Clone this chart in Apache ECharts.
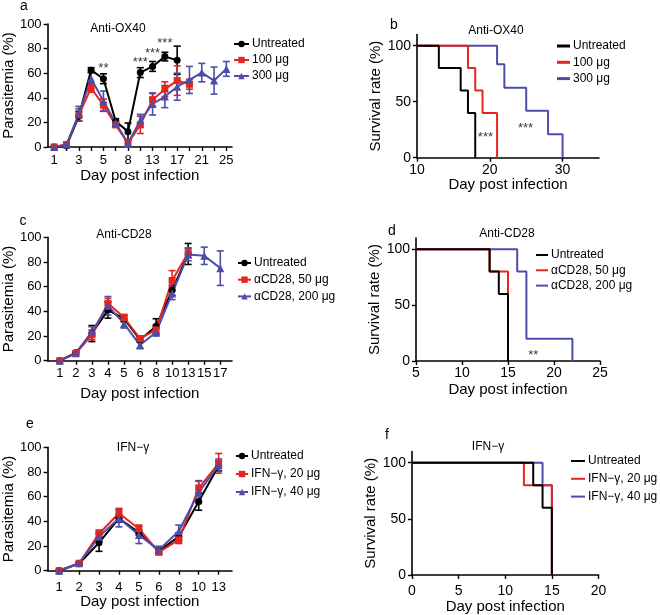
<!DOCTYPE html>
<html>
<head>
<meta charset="utf-8">
<script src="https://cdn.jsdelivr.net/npm/echarts@6/dist/echarts.min.js"></script>
<style>
html, body { margin: 0; padding: 0; background: #fff; }
#main { width: 660px; height: 615px; }
</style>
</head>
<body>
<div id="main"></div>
<script>
// ---- panel a : parasitemia, anti-OX40 ----
var daysA = ['1', '2', '3', '4', '5', '6', '8', '10', '13', '15', '17', '19', '21', '23', '25'];
var untreatedA = [0, 1, 25, 62.5, 55.5, 21, 12.5, 60.5, 65.5, 73.5, 70.5];
var untreatedAErr = [0.5, 1, 4, 2, 4, 2, 7, 4, 4, 3.5, 11.5];
var ox100 = [0, 2, 26, 48, 34, 18, 3, 18, 38.5, 47, 54, 51];
var ox100Err = [0.5, 1, 5, 3.5, 5, 2, 3, 7, 5, 6, 12, 4];
var ox300 = [0, 2, 27, 55.5, 37.5, 19.5, 3, 21.5, 35, 41, 49, 54.5, 60.5, 54, 63.5];
var ox300Err = [0.5, 1, 6, 5, 8, 2, 3, 5, 9, 9, 11, 11, 7.5, 11, 6];
var starsA = [[4, 64, '**'], [7, 68.5, '***'], [8, 76, '***'], [9, 84, '***']];

// ---- panel b : survival, anti-OX40 ----
var survBUntreated = [[10, 100], [13, 80], [16, 60], [17, 40], [18, 0]];
var survB100 = [[10, 100], [17, 80], [18, 60], [19, 40], [21, 0]];
var survB300 = [[10, 100], [21, 83.5], [22, 62.5], [25, 42], [28, 21], [30, 0]];
var starsB = [[19.4, 18, '***'], [24.9, 26.5, '***']];

// ---- panel c : parasitemia, anti-CD28 ----
var daysC = ['1', '2', '3', '4', '5', '6', '8', '10', '13', '15', '17'];
var untreatedC = [0, 6.5, 22, 41, 34, 17, 28, 57, 86.5];
var untreatedCErr = [0.5, 1, 6.5, 6.5, 2.5, 2, 6, 4, 8.5];
var cd50 = [0, 6, 21, 46.5, 35, 18, 25, 65, 87.5];
var cd50Err = [0.5, 1, 4, 4, 2.5, 2, 4, 8, 4];
var cd200 = [0, 6, 23.5, 44.5, 30, 12.7, 23, 54.5, 86, 85, 75];
var cd200Err = [0.5, 1, 4, 7.5, 3.5, 3, 3, 5, 5, 7, 14];

// ---- panel d : survival, anti-CD28 ----
var survDUntreated = [[5, 100], [13, 80], [14, 60], [15, 0]];
var survD50 = [[5, 100], [13, 80], [15, 0]];
var survD200 = [[5, 100], [16, 80], [17, 20], [22, 0]];
var starsD = [[17.75, 5, '**']];

// ---- panel e : parasitemia, IFN-gamma ----
var daysE = ['1', '2', '3', '4', '5', '6', '8', '10', '13'];
var untreatedE = [0, 5.7, 22.7, 42.4, 31, 16, 27.6, 56, 85];
var untreatedEErr = [0.5, 1, 7, 3, 2, 2, 3, 7, 4];
var ifn20 = [0, 6, 30, 46.5, 34, 15, 25, 67, 87];
var ifn20Err = [0.5, 1, 3, 4, 3, 2, 3, 6, 8];
var ifn40 = [0, 6, 27.5, 42.5, 29, 16.8, 32, 63.5, 85.5];
var ifn40Err = [0.5, 1, 4, 7, 7, 3, 5, 9, 5];

// ---- panel f : survival, IFN-gamma ----
var survFUntreated = [[0, 100], [13, 80], [14, 60], [15, 0]];
var survF20 = [[0, 100], [12, 80], [15, 0]];
var survF40 = [[0, 100], [14, 80], [15, 0]];

var BLACK = '#000000';
var RED = '#e4261d';
var BLUE = '#4c4dab';
var FONT = 'Liberation Sans, Arial, sans-serif';

/** helpers */
function toPoints(vals) {
	return vals.map(function(v, i) { return [i, v]; });
}
function toBars(vals, errs) {
	return vals.map(function(v, i) { return [i, Math.max(0, v - errs[i]), v + errs[i]]; });
}
function range(n, step) {
	var r = [];
	for (var i = 0; i < n; i += step) r.push(i);
	return r;
}

function lineSeries(name, idx, vals, color, symbol, size) {
	return {
		name : name,
		type : 'line',
		xAxisIndex : idx,
		yAxisIndex : idx,
		data : toPoints(vals),
		symbol : symbol,
		symbolSize : size,
		showAllSymbol : true,
		lineStyle : { color : color, width : 2 },
		itemStyle : { color : color },
		emphasis : { disabled : true },
		animation : false
	};
}

function errSeries(idx, vals, errs, color) {
	return {
		type : 'custom',
		xAxisIndex : idx,
		yAxisIndex : idx,
		data : toBars(vals, errs),
		encode : { x : 0, y : [1, 2] },
		silent : true,
		animation : false,
		renderItem : function(params, api) {
			var lo = api.coord([api.value(0), api.value(1)]);
			var hi = api.coord([api.value(0), api.value(2)]);
			var w = 3.5;
			var st = { stroke : color, lineWidth : 1.6 };
			return {
				type : 'group',
				children : [
					{ type : 'line', shape : { x1 : lo[0], y1 : lo[1], x2 : hi[0], y2 : hi[1] }, style : st },
					{ type : 'line', shape : { x1 : hi[0] - w, y1 : hi[1], x2 : hi[0] + w, y2 : hi[1] }, style : st },
					{ type : 'line', shape : { x1 : lo[0] - w, y1 : lo[1], x2 : lo[0] + w, y2 : lo[1] }, style : st }
				]
			};
		}
	};
}

function stepSeries(name, idx, data, color) {
	return {
		name : name,
		type : 'line',
		step : 'end',
		xAxisIndex : idx,
		yAxisIndex : idx,
		data : data,
		symbol : 'none',
		lineStyle : { color : color, width : 2 },
		itemStyle : { color : color },
		emphasis : { disabled : true },
		animation : false
	};
}

function starSeries(idx, data) {
	return {
		type : 'scatter',
		xAxisIndex : idx,
		yAxisIndex : idx,
		data : data,
		symbolSize : 0,
		silent : true,
		animation : false,
		label : {
			show : true,
			position : 'inside',
			formatter : function(p) { return p.value[2]; },
			color : '#000',
			fontSize : 13,
			fontFamily : FONT
		}
	};
}

var axisLine = { show : true, onZero : false, lineStyle : { color : '#000', width : 1.6 } };
var axisTick = { show : true, length : 4, lineStyle : { color : '#000', width : 1.4 } };

function dayAxis(idx, labels, min, max, labelStep, nameGap, margin) {
	return {
		gridIndex : idx,
		type : 'value',
		min : min,
		max : max,
		name : 'Day post infection',
		nameLocation : 'middle',
		nameGap : nameGap,
		nameTextStyle : { color : '#000', fontSize : 15, fontFamily : FONT },
		axisLine : axisLine,
		axisTick : Object.assign({ customValues : range(labels.length, 1) }, axisTick),
		splitLine : { show : false },
		axisLabel : {
			customValues : range(labels.length, labelStep),
			formatter : function(v) { return labels[Math.round(v)]; },
			color : '#000',
			fontSize : 13,
			fontFamily : FONT,
			margin : margin
		}
	};
}

function timeAxis(idx, min, max, ticks, nameGap, margin) {
	return {
		gridIndex : idx,
		type : 'value',
		min : min,
		max : max,
		name : 'Day post infection',
		nameLocation : 'middle',
		nameGap : nameGap,
		nameTextStyle : { color : '#000', fontSize : 15, fontFamily : FONT },
		axisLine : axisLine,
		axisTick : Object.assign({ customValues : ticks }, axisTick),
		splitLine : { show : false },
		axisLabel : { customValues : ticks, color : '#000', fontSize : 14, fontFamily : FONT, margin : margin }
	};
}

function pctAxis(idx, name, max, ticks, nameGap, fs) {
	return {
		gridIndex : idx,
		type : 'value',
		min : 0,
		max : max,
		name : name,
		nameLocation : 'middle',
		nameGap : nameGap,
		nameTextStyle : { color : '#000', fontSize : 15, fontFamily : FONT },
		axisLine : axisLine,
		axisTick : Object.assign({ customValues : ticks }, axisTick),
		splitLine : { show : false },
		axisLabel : { customValues : ticks, color : '#000', fontSize : fs, fontFamily : FONT, margin : 6 }
	};
}

// icon / itemHeight only set for survival legends (plain line key)
function legendBox(left, top, gap, names, itemW, icon, itemH) {
	var lg = {
		orient : 'vertical',
		left : left,
		top : top,
		itemGap : gap,
		itemWidth : itemW,
		itemHeight : itemH || 8,
		padding : 0,
		selectedMode : false,
		data : names,
		formatter : function(n) { return n.split('|')[1]; },
		textStyle : { color : '#000', fontSize : 12, fontFamily : FONT, lineHeight : 14, padding : [0, 0, 0, -2] }
	};
	if (icon) lg.icon = icon;
	return lg;
}

function label(text, x, y, size) {
	return {
		type : 'text',
		x : x,
		y : y,
		style : { text : text, fill : '#000', font : size + 'px ' + FONT, textAlign : 'center', textVerticalAlign : 'middle' }
	};
}

var myChart = echarts.init(document.getElementById('main'));

var option = {
	backgroundColor : '#fff',
	animation : false,
	grid : [
		{ left : 47, top : 24, width : 185, height : 123 },
		{ left : 417, top : 34.5, width : 182, height : 123.2 },
		{ left : 47, top : 237.3, width : 185, height : 123.4 },
		{ left : 416, top : 238.1, width : 184, height : 122.9 },
		{ left : 47, top : 447.3, width : 185, height : 123.4 },
		{ left : 412, top : 451.5, width : 186.5, height : 123.5 }
	],
	xAxis : [
		dayAxis(0, daysA, -0.54, 14.46, 2, 20, 7),
		timeAxis(1, 10, 35, [10, 20, 30], 19, 5),
		dayAxis(2, daysC, -0.76, 10.73, 1, 26, 6),
		timeAxis(3, 5, 25, [5, 10, 15, 20, 25], 21, 5),
		dayAxis(4, daysE, -0.58, 8.67, 1, 16, 10),
		timeAxis(5, 0, 20, [0, 5, 10, 15, 20], 23, 9)
	],
	yAxis : [
		pctAxis(0, 'Parasitemia (%)', 100, [0, 20, 40, 60, 80, 100], 31, 13),
		pctAxis(1, 'Survival rate (%)', 110, [0, 50, 100], 29, 14),
		pctAxis(2, 'Parasitemia (%)', 100, [0, 20, 40, 60, 80, 100], 28, 13),
		pctAxis(3, 'Survival rate (%)', 110, [0, 50, 100], 30, 14),
		pctAxis(4, 'Parasitemia (%)', 100, [0, 20, 40, 60, 80, 100], 30, 13),
		pctAxis(5, 'Survival rate (%)', 110, [0, 50, 100], 30, 14)
	],
	legend : [
		legendBox(233, 37, 2, ['a|Untreated', 'a|100 μg', 'a|300 μg'], 15),
		legendBox(557, 39, 2.3, ['b|Untreated', 'b|100 μg', 'b|300 μg'], 13, 'rect', 3),
		legendBox(237, 256, 2.7, ['c|Untreated', 'c|αCD28, 50 μg', 'c|αCD28, 200 μg'], 13),
		legendBox(536, 248, 1.3, ['d|Untreated', 'd|αCD28, 50 μg', 'd|αCD28, 200 μg'], 12, 'rect', 2),
		legendBox(235, 449, 4, ['e|Untreated', 'e|IFN−γ, 20 μg', 'e|IFN−γ, 40 μg'], 12),
		legendBox(571, 454, 3.8, ['f|Untreated', 'f|IFN−γ, 20 μg', 'f|IFN−γ, 40 μg'], 14, 'rect', 2)
	],
	graphic : [
		label('a', 24, 6, 14), label('Anti-OX40', 118, 29, 12),
		label('b', 394, 25, 14), label('Anti-OX40', 496, 31, 12),
		label('c', 23, 221, 14), label('Anti-CD28', 124, 235, 12),
		label('d', 392, 231, 14), label('Anti-CD28', 507, 234, 12),
		label('e', 30, 424, 14), label('IFN−γ', 133, 448, 12),
		label('f', 387, 435, 14), label('IFN−γ', 488, 447, 12)
	],
	series : [
		// a
		errSeries(0, untreatedA, untreatedAErr, BLACK),
		lineSeries('a|Untreated', 0, untreatedA, BLACK, 'circle', 7),
		errSeries(0, ox100, ox100Err, RED),
		lineSeries('a|100 μg', 0, ox100, RED, 'rect', 7),
		errSeries(0, ox300, ox300Err, BLUE),
		lineSeries('a|300 μg', 0, ox300, BLUE, 'triangle', 8),
		starSeries(0, starsA),
		// b
		stepSeries('b|300 μg', 1, survB300, BLUE),
		stepSeries('b|100 μg', 1, survB100, RED),
		stepSeries('b|Untreated', 1, survBUntreated, BLACK),
		starSeries(1, starsB),
		// c
		errSeries(2, untreatedC, untreatedCErr, BLACK),
		lineSeries('c|Untreated', 2, untreatedC, BLACK, 'circle', 7),
		errSeries(2, cd50, cd50Err, RED),
		lineSeries('c|αCD28, 50 μg', 2, cd50, RED, 'rect', 7),
		errSeries(2, cd200, cd200Err, BLUE),
		lineSeries('c|αCD28, 200 μg', 2, cd200, BLUE, 'triangle', 8),
		// d
		stepSeries('d|αCD28, 200 μg', 3, survD200, BLUE),
		stepSeries('d|αCD28, 50 μg', 3, survD50, RED),
		stepSeries('d|Untreated', 3, survDUntreated, BLACK),
		starSeries(3, starsD),
		// e
		errSeries(4, untreatedE, untreatedEErr, BLACK),
		lineSeries('e|Untreated', 4, untreatedE, BLACK, 'circle', 7),
		errSeries(4, ifn20, ifn20Err, RED),
		lineSeries('e|IFN−γ, 20 μg', 4, ifn20, RED, 'rect', 7),
		errSeries(4, ifn40, ifn40Err, BLUE),
		lineSeries('e|IFN−γ, 40 μg', 4, ifn40, BLUE, 'triangle', 8),
		// f
		stepSeries('f|IFN−γ, 40 μg', 5, survF40, BLUE),
		stepSeries('f|IFN−γ, 20 μg', 5, survF20, RED),
		stepSeries('f|Untreated', 5, survFUntreated, BLACK)
	]
};

myChart.setOption(option);
</script>
</body>
</html>
